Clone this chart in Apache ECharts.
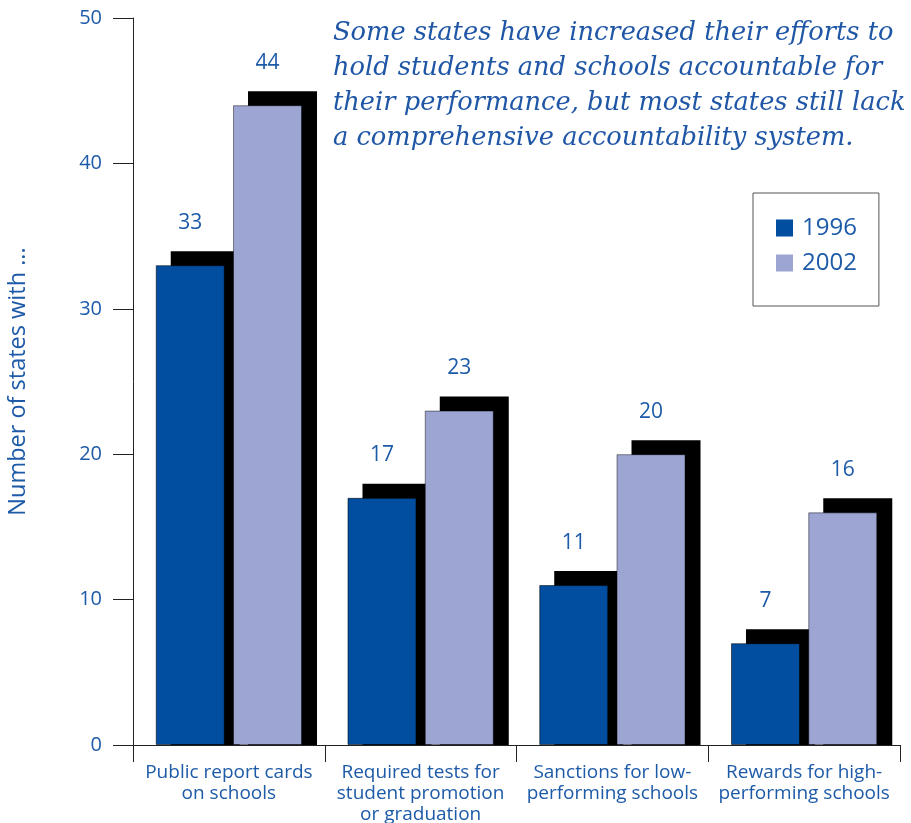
<!DOCTYPE html>
<html>
<head>
<meta charset="utf-8">
<script src="https://cdn.jsdelivr.net/npm/echarts@6/dist/echarts.min.js"></script>
<style>
  html, body { margin: 0; padding: 0; background: #fff; }
  #chart { width: 911px; height: 823px; }
</style>
</head>
<body>
<div id="chart"></div>
<script>
// Accountability measures adopted by states
const categories = [
  'Public report cards\non schools',
  'Required tests for\nstudent promotion\nor graduation',
  'Sanctions for low-\nperforming schools',
  'Rewards for high-\nperforming schools'
];
const values1996 = [33, 17, 11, 7];
const values2002 = [44, 23, 20, 16];
const yTicks = [0, 10, 20, 30, 40, 50];

const BLUE_TEXT = '#1d5aa8';
const BAR_W = 69;
const GAP_RATIO = 0.12;
const SHADOW_DX = 15;   // drop shadow offset to the right, px
const SHADOW_DY = 14;   // drop shadow offset upward, px

// Solid black drop shadow behind each bar, running down to the baseline
function shadowRenderer(slot) {
  return function (params, api) {
    const i = api.value(0);
    const v = api.value(1);
    const base = api.coord([i, 0]);
    const top = api.coord([i, v]);
    const gap = BAR_W * GAP_RATIO;
    const groupW = BAR_W * 2 + gap;
    const x = base[0] - groupW / 2 + slot * (BAR_W + gap) + SHADOW_DX;
    const y = top[1] - SHADOW_DY;
    return {
      type: 'rect',
      shape: { x: x, y: y, width: BAR_W, height: base[1] - y },
      style: { fill: '#000' }
    };
  };
}

const chart = echarts.init(document.getElementById('chart'), null, { renderer: 'canvas' });

const labelStyle = {
  show: true,
  position: 'top',
  distance: 32,
  color: BLUE_TEXT,
  fontSize: 21,
  fontFamily: 'Open Sans'
};

chart.setOption({
  animation: false,
  backgroundColor: '#fff',
  title: {
    text: 'Some states have increased their efforts to\nhold students and schools accountable for\ntheir performance, but most states still lack\na comprehensive accountability system.',
    left: 333,
    top: 16,
    padding: 0,
    textStyle: {
      color: '#1f56a6',
      fontSize: 25.7,
      fontStyle: 'italic',
      fontWeight: 'normal',
      fontFamily: 'DejaVu Serif',
      lineHeight: 35
    }
  },
  legend: {
    orient: 'vertical',
    left: 753,
    top: 193,
    padding: [23, 22, 31, 23],
    itemGap: 11,
    itemWidth: 17,
    itemHeight: 17,
    borderColor: '#555',
    borderWidth: 1,
    icon: 'rect',
    data: ['1996', '2002'],
    itemStyle: { borderWidth: 0 },
    textStyle: { color: BLUE_TEXT, fontSize: 24, fontFamily: 'Open Sans', padding: [0, 0, 0, 4] }
  },
  grid: { left: 133, right: 11, top: 18, bottom: 78, containLabel: false, outerBoundsMode: 'none' },
  xAxis: {
    type: 'category',
    data: categories,
    axisLine: { lineStyle: { color: '#222', width: 1 } },
    axisTick: { show: true, length: 17, lineStyle: { color: '#222' } },
    axisLabel: {
      color: BLUE_TEXT,
      fontSize: 19,
      fontFamily: 'Open Sans',
      lineHeight: 21,
      margin: 17,
      interval: 0
    }
  },
  yAxis: {
    type: 'value',
    min: 0,
    max: 50,
    interval: 10,
    name: 'Number of states with ...',
    nameLocation: 'middle',
    nameGap: 103,
    nameMoveOverlap: false,
    nameRotate: 90,
    nameTextStyle: { color: BLUE_TEXT, fontSize: 23.5, fontFamily: 'Open Sans' },
    axisLine: { show: true, lineStyle: { color: '#222', width: 1 } },
    axisTick: { show: true, length: 20, lineStyle: { color: '#222' } },
    axisLabel: {
      color: BLUE_TEXT,
      fontSize: 20,
      fontFamily: 'Open Sans',
      margin: 31,
      formatter: function (v) { return yTicks.indexOf(v) >= 0 ? String(v) : ''; }
    },
    splitLine: { show: false }
  },
  series: [
    {
      name: '1996 shadow',
      type: 'custom',
      z: 1,
      renderItem: shadowRenderer(0),
      encode: { x: 0, y: 1 },
      data: values1996.map(function (v, i) { return [i, v]; })
    },
    {
      name: '2002 shadow',
      type: 'custom',
      z: 1,
      renderItem: shadowRenderer(1),
      encode: { x: 0, y: 1 },
      data: values2002.map(function (v, i) { return [i, v]; })
    },
    {
      name: '1996',
      type: 'bar',
      z: 2,
      barWidth: BAR_W,
      barGap: (GAP_RATIO * 100) + '%',
      data: values1996,
      itemStyle: { color: '#014ea0', borderColor: 'rgba(0,0,0,0.55)', borderWidth: 1 },
      label: labelStyle
    },
    {
      name: '2002',
      type: 'bar',
      z: 2,
      barWidth: BAR_W,
      barGap: (GAP_RATIO * 100) + '%',
      data: values2002,
      itemStyle: { color: '#9da5d2', borderColor: 'rgba(0,0,0,0.45)', borderWidth: 1 },
      label: labelStyle
    }
  ]
});
</script>
</body>
</html>
